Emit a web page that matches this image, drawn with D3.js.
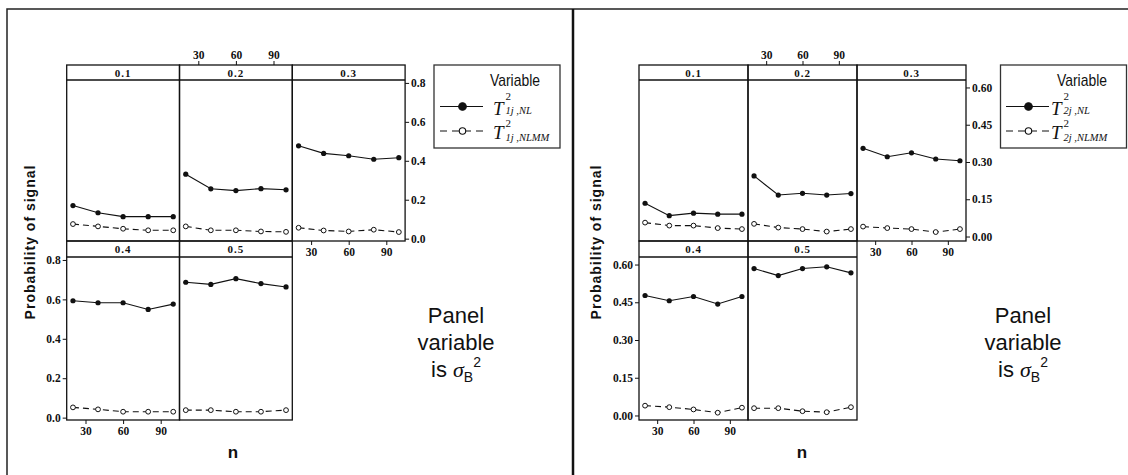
<!DOCTYPE html>
<html>
<head>
<meta charset="utf-8">
<script src="https://cdn.jsdelivr.net/npm/d3@7"></script>
<style>
  body { margin: 0; background: #fff; }
  svg { display: block; }
  .tick text { font-family: "Liberation Serif", serif; font-weight: bold; font-size: 11.5px; fill: #111; }
  .tick line { stroke: #111; stroke-width: 1; }
</style>
</head>
<body>
<div id="chart"></div>
<script>
// sample sizes n, panel values of sigma_B^2
const nValues = [20, 40, 60, 80, 100];
const panelLabels = ['0.1', '0.2', '0.3', '0.4', '0.5'];
const xTicks = [30, 60, 90];

// left chart: T1 statistics, one array per panel
const t1NL = [
  [0.170, 0.133, 0.113, 0.113, 0.113],
  [0.331, 0.256, 0.247, 0.257, 0.251],
  [0.477, 0.438, 0.426, 0.408, 0.416],
  [0.593, 0.583, 0.583, 0.549, 0.576],
  [0.687, 0.676, 0.705, 0.680, 0.663]
];
const t1NLMM = [
  [0.075, 0.063, 0.051, 0.043, 0.043],
  [0.063, 0.043, 0.043, 0.037, 0.035],
  [0.056, 0.042, 0.037, 0.046, 0.034],
  [0.052, 0.042, 0.030, 0.030, 0.030],
  [0.038, 0.038, 0.030, 0.030, 0.038]
];
const yTicks1 = [0, 0.2, 0.4, 0.6, 0.8];

// right chart: T2 statistics
const t2NL = [
  [0.134, 0.084, 0.094, 0.090, 0.090],
  [0.244, 0.167, 0.174, 0.167, 0.173],
  [0.355, 0.321, 0.337, 0.312, 0.305],
  [0.477, 0.456, 0.473, 0.443, 0.473],
  [0.584, 0.556, 0.584, 0.591, 0.567]
];
const t2NLMM = [
  [0.056, 0.044, 0.044, 0.034, 0.030],
  [0.051, 0.036, 0.030, 0.020, 0.030],
  [0.040, 0.034, 0.030, 0.018, 0.030],
  [0.039, 0.033, 0.024, 0.011, 0.031],
  [0.029, 0.029, 0.017, 0.013, 0.033]
];
const yTicks2 = [0, 0.15, 0.30, 0.45, 0.60];

const W = 1128, H = 475;
const svg = d3.select('#chart').append('svg')
  .attr('width', W)
  .attr('height', H);

svg.append('rect').attr('width', W).attr('height', H).attr('fill', '#fff');

// outer frame and divider
svg.append('path')
  .attr('d', `M7,${H}V9H${W}`)
  .attr('fill', 'none')
  .attr('stroke', '#222')
  .attr('stroke-width', 1.5);
svg.append('line')
  .attr('x1', 573).attr('x2', 573).attr('y1', 9).attr('y2', H)
  .attr('stroke', '#111')
  .attr('stroke-width', 2.5);

// rows: strip top, plot top, plot bottom
const rows = [
  { stripTop: 65, top: 80, bottom: 241 },
  { stripTop: 241, top: 257, bottom: 420 }
];

function drawChart(opt) {
  const g = svg.append('g');
  const cells = panelLabels.map((lab, i) => ({
    label: lab,
    row: i < 3 ? 0 : 1,
    col: i < 3 ? i : i - 3,
    nl: opt.nl[i],
    nlmm: opt.nlmm[i]
  }));

  const yScales = rows.map(r => d3.scaleLinear()
    .domain(opt.yDomain)
    .range([r.bottom, r.top]));

  const xScaleFor = col => d3.scaleLinear()
    .domain([15, 105])
    .range([opt.left + col * opt.colW, opt.left + (col + 1) * opt.colW]);

  cells.forEach(c => {
    const x = xScaleFor(c.col);
    const y = yScales[c.row];
    const r = rows[c.row];
    const x0 = x.range()[0], x1 = x.range()[1];
    const pg = g.append('g');

    // series
    const line = d3.line().x((d, i) => x(nValues[i])).y(d => y(d));
    pg.append('path')
      .datum(c.nl)
      .attr('d', line)
      .attr('fill', 'none')
      .attr('stroke', '#111')
      .attr('stroke-width', 1.1);
    pg.append('path')
      .datum(c.nlmm)
      .attr('d', line)
      .attr('fill', 'none')
      .attr('stroke', '#111')
      .attr('stroke-width', 1.1)
      .attr('stroke-dasharray', '6,4');
    pg.selectAll('circle.nl')
      .data(c.nl)
      .enter()
      .append('circle')
      .attr('class', 'nl')
      .attr('cx', (d, i) => x(nValues[i]))
      .attr('cy', d => y(d))
      .attr('r', 2.6)
      .attr('fill', '#111');
    pg.selectAll('circle.nlmm')
      .data(c.nlmm)
      .enter()
      .append('circle')
      .attr('class', 'nlmm')
      .attr('cx', (d, i) => x(nValues[i]))
      .attr('cy', d => y(d))
      .attr('r', 2.4)
      .attr('fill', '#fff')
      .attr('stroke', '#111')
      .attr('stroke-width', 1);

    // panel box and strip
    pg.append('rect')
      .attr('x', x0).attr('y', r.stripTop)
      .attr('width', x1 - x0).attr('height', r.bottom - r.stripTop)
      .attr('fill', 'none')
      .attr('stroke', '#111')
      .attr('stroke-width', 1.3);
    pg.append('line')
      .attr('x1', x0).attr('x2', x1).attr('y1', r.top).attr('y2', r.top)
      .attr('stroke', '#111')
      .attr('stroke-width', 1.3);
    pg.append('text')
      .attr('x', (x0 + x1) / 2)
      .attr('y', (r.stripTop + r.top) / 2 + 4)
      .attr('text-anchor', 'middle')
      .attr('font-family', 'Liberation Serif, serif')
      .attr('font-weight', 'bold')
      .attr('font-size', 11)
      .attr('letter-spacing', 1)
      .attr('fill', '#111')
      .text(c.label);
  });

  const yFmt = d3.format(opt.yFormat);

  // top axis over column 2
  g.append('g')
    .attr('transform', `translate(0,${rows[0].stripTop})`)
    .call(d3.axisTop(xScaleFor(1)).tickValues(xTicks).tickSize(4).tickPadding(2))
    .call(a => a.select('.domain').remove());

  // right axis on column 3, top row
  g.append('g')
    .attr('transform', `translate(${opt.left + 3 * opt.colW},0)`)
    .call(d3.axisRight(yScales[0]).tickValues(opt.yTicks).tickFormat(yFmt).tickSize(4).tickPadding(2))
    .call(a => a.select('.domain').remove());

  // bottom axis below column 3, top row
  g.append('g')
    .attr('transform', `translate(0,${rows[0].bottom})`)
    .call(d3.axisBottom(xScaleFor(2)).tickValues(xTicks).tickSize(4).tickPadding(3))
    .call(a => a.select('.domain').remove());

  // left axis on column 1, bottom row
  g.append('g')
    .attr('transform', `translate(${opt.left},0)`)
    .call(d3.axisLeft(yScales[1]).tickValues(opt.yTicks).tickFormat(yFmt).tickSize(4).tickPadding(2))
    .call(a => a.select('.domain').remove());

  // bottom axis below column 1, bottom row
  g.append('g')
    .attr('transform', `translate(0,${rows[1].bottom})`)
    .call(d3.axisBottom(xScaleFor(0)).tickValues(xTicks).tickSize(4).tickPadding(3))
    .call(a => a.select('.domain').remove());

  // axis titles
  g.append('text')
    .attr('transform', `translate(${opt.yTitleX},242) rotate(-90)`)
    .attr('text-anchor', 'middle')
    .attr('font-family', 'Liberation Sans, Arial, sans-serif')
    .attr('font-weight', 'bold')
    .attr('font-size', 14)
    .attr('letter-spacing', 1)
    .attr('fill', '#111')
    .text('Probability of signal');
  g.append('text')
    .attr('x', opt.nX)
    .attr('y', 458)
    .attr('text-anchor', 'middle')
    .attr('font-family', 'Liberation Sans, Arial, sans-serif')
    .attr('font-weight', 'bold')
    .attr('font-size', 17)
    .attr('fill', '#111')
    .text('n');

  // legend
  const lg = g.append('g').attr('transform', `translate(${opt.legendX},65)`);
  lg.append('rect')
    .attr('x', 0).attr('y', 0)
    .attr('width', 126).attr('height', 83)
    .attr('fill', '#fff')
    .attr('stroke', '#333')
    .attr('stroke-width', 1.3);
  lg.append('text')
    .attr('x', opt.varX).attr('y', 20.5)
    .attr('text-anchor', 'middle')
    .attr('font-family', 'Liberation Sans, Arial, sans-serif')
    .attr('font-size', 17)
    .attr('textLength', 50)
    .attr('lengthAdjust', 'spacingAndGlyphs')
    .attr('fill', '#111')
    .text('Variable');
  const entries = [
    { y: 41.5, dash: null, fill: '#111', sub: opt.subNL },
    { y: 66, dash: '7,5', fill: '#fff', sub: opt.subNLMM }
  ];
  entries.forEach((e, k) => {
    lg.append('line')
      .attr('x1', opt.symX0).attr('x2', opt.symX0 + 43)
      .attr('y1', e.y).attr('y2', e.y)
      .attr('stroke', '#111')
      .attr('stroke-width', 1.2)
      .attr('stroke-dasharray', e.dash);
    lg.append('circle')
      .attr('cx', opt.symX0 + 22.5).attr('cy', e.y)
      .attr('r', e.dash ? 3.2 : 3.8)
      .attr('fill', e.fill)
      .attr('stroke', '#111')
      .attr('stroke-width', 1.1);
    const tx = opt.labX;
    lg.append('text')
      .attr('x', tx).attr('y', e.y + 8)
      .attr('font-family', 'Liberation Serif, serif')
      .attr('font-style', 'italic')
      .attr('font-size', 19)
      .attr('fill', '#111')
      .text('T');
    lg.append('text')
      .attr('x', tx + 12.5).attr('y', k === 0 ? e.y - 7 : e.y - 4.5)
      .attr('font-family', 'Liberation Serif, serif')
      .attr('font-size', 11)
      .attr('fill', '#111')
      .text('2');
    lg.append('text')
      .attr('x', tx + 12.5).attr('y', k === 0 ? e.y + 7.5 : e.y + 9.5)
      .attr('font-family', 'Liberation Serif, serif')
      .attr('font-style', 'italic')
      .attr('font-size', 10.5)
      .attr('fill', '#111')
      .text(e.sub);
  });

  // panel variable note
  const note = g.append('g')
    .attr('font-family', 'Liberation Sans, Arial, sans-serif')
    .attr('font-size', 22)
    .attr('fill', '#111')
    .attr('text-anchor', 'middle');
  note.append('text').attr('x', opt.noteX).attr('y', 323).text('Panel');
  note.append('text').attr('x', opt.noteX).attr('y', 350).text('variable');
  const last = note.append('text').attr('x', opt.noteX).attr('y', 377);
  last.append('tspan').text('is ');
  last.append('tspan')
    .attr('font-family', 'Liberation Serif, serif')
    .attr('font-style', 'italic')
    .text('σ');
  last.append('tspan').attr('font-size', 14).attr('dy', 5).text('B');
  last.append('tspan').attr('font-size', 14).attr('dy', -15).text('2');
}

drawChart({
  left: 66.7, colW: 112.8,
  nl: t1NL, nlmm: t1NLMM,
  yDomain: [-0.012, 0.815], yTicks: yTicks1, yFormat: '.1f',
  yTitleX: 35, nX: 233,
  legendX: 434, varX: 81, symX0: 6, labX: 59,
  subNL: '1j ,NL', subNLMM: '1j ,NLMM',
  noteX: 456
});

drawChart({
  left: 639, colW: 109,
  nl: t2NL, nlmm: t2NLMM,
  yDomain: [-0.018, 0.63], yTicks: yTicks2, yFormat: '.2f',
  yTitleX: 601, nX: 802,
  legendX: 1000.5, varX: 81.5, symX0: 5.5, labX: 50.5,
  subNL: '2j ,NL', subNLMM: '2j ,NLMM',
  noteX: 1023
});
</script>
</body>
</html>
